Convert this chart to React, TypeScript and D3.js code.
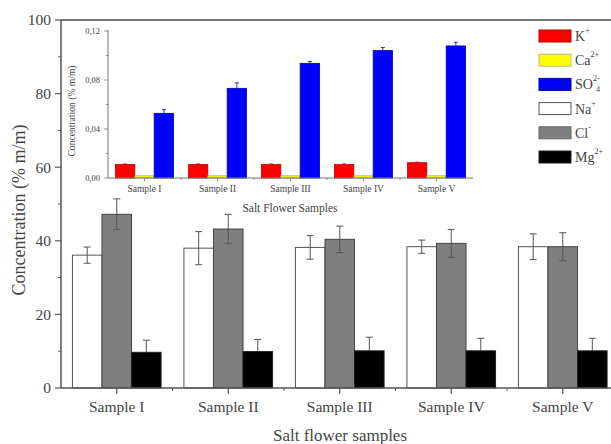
import React from "react";
import * as d3 from "d3";

const samples = ["Sample I", "Sample II", "Sample III", "Sample IV", "Sample V"];
const mainSeries = ["Na", "Cl", "Mg"];
const naValues = [36.1, 38.0, 38.2, 38.4, 38.4];
const naErrors = [2.2, 4.5, 3.2, 1.8, 3.5];
const clValues = [47.2, 43.2, 40.4, 39.3, 38.4];
const clErrors = [4.2, 4.0, 3.6, 3.8, 3.8];
const mgValues = [9.7, 9.9, 10.1, 10.1, 10.1];
const mgErrors = [3.3, 3.3, 3.7, 3.4, 3.4];

const insetSeries = ["K", "Ca", "SO4"];
const kValues = [0.011, 0.011, 0.011, 0.011, 0.0125];
const kErrors = [0.0005, 0.0005, 0.0005, 0.0005, 0.0005];
const caValues = [0.0018, 0.0018, 0.0018, 0.0018, 0.0018];
const caErrors = [0, 0, 0, 0, 0];
const so4Values = [0.0528, 0.0732, 0.0936, 0.104, 0.1078];
const so4Errors = [0.003, 0.0045, 0.0015, 0.0025, 0.003];

const mainTicks = [0, 20, 40, 60, 80, 100];
const mainMinor = [10, 30, 50, 70, 90];
const insetTicks = [0, 0.04, 0.08, 0.12];
const insetMinor = [0.02, 0.06, 0.1];

const FONT = "'Liberation Serif', 'Times New Roman', serif";
const AX = "#555";
const TXT = "#444";

const mainData: Record<string, { v: number[]; e: number[]; fill: string; stroke: string }> = {
  Na: { v: naValues, e: naErrors, fill: "#ffffff", stroke: "#555" },
  Cl: { v: clValues, e: clErrors, fill: "#7f7f7f", stroke: "#444" },
  Mg: { v: mgValues, e: mgErrors, fill: "#000000", stroke: "#222" },
};
const insetData: Record<string, { v: number[]; e: number[]; fill: string; stroke: string }> = {
  K: { v: kValues, e: kErrors, fill: "#ff0000", stroke: "#b00" },
  Ca: { v: caValues, e: caErrors, fill: "#ffff00", stroke: "#aa9" },
  SO4: { v: so4Values, e: so4Errors, fill: "#0000ff", stroke: "#00a" },
};

const legend = [
  { key: "K", base: "K", sup: "+", sub: "", fill: "#ff0000", stroke: "#b00" },
  { key: "Ca", base: "Ca", sup: "2+", sub: "", fill: "#ffff00", stroke: "#bb8" },
  { key: "SO4", base: "SO", sup: "2-", sub: "4", fill: "#0000ff", stroke: "#00a" },
  { key: "Na", base: "Na", sup: "+", sub: "", fill: "#ffffff", stroke: "#555" },
  { key: "Cl", base: "Cl", sup: "-", sub: "", fill: "#7f7f7f", stroke: "#666" },
  { key: "Mg", base: "Mg", sup: "2+", sub: "", fill: "#000000", stroke: "#222" },
];

export default function App() {
  const W = 611, H = 444;
  const x = d3.scaleBand<string>().domain(samples).range([61, 618.5]).padding(0);
  const bw = x.bandwidth();
  const gw = bw * 0.795;
  const xi = d3.scaleBand<string>().domain(mainSeries).range([(bw - gw) / 2, (bw + gw) / 2]).padding(0);
  const y = d3.scaleLinear().domain([0, 100]).range([388, 20]);

  const ix = d3.scaleBand<string>().domain(samples).range([108, 473]).padding(0);
  const ibw = ix.bandwidth();
  const igw = ibw * 0.795;
  const ixi = d3.scaleBand<string>().domain(insetSeries).range([(ibw - igw) / 2, (ibw + igw) / 2]).padding(0);
  const iy = d3.scaleLinear().domain([0, 0.12]).range([178, 31]);

  const legendY = d3.scaleLinear().domain([0, 5]).range([36, 157]);

  return (
    <svg width={W} height={H} style={{ position: "absolute", left: 0, top: 0, background: "#fff" }} fontFamily={FONT}>
      <rect x={0} y={0} width={W} height={H} fill="#fff" />
      {/* main bars */}
      {samples.map((s, i) =>
        mainSeries.map((k) => {
          const d = mainData[k];
          const bx = (x(s) as number) + (xi(k) as number);
          const w = xi.bandwidth();
          const top = y(d.v[i]);
          const cx = bx + w / 2;
          const ec = k === "Mg" ? "#555" : "#555";
          const lowCol = k === "Mg" ? "#000" : ec;
          return (
            <g key={s + k}>
              <rect x={bx} y={top} width={w} height={y(0) - top} fill={d.fill} stroke={d.stroke} strokeWidth={1} />
              <line x1={cx} x2={cx} y1={y(d.v[i] + d.e[i])} y2={top} stroke={ec} strokeWidth={1} />
              <line x1={cx} x2={cx} y1={top} y2={y(d.v[i] - d.e[i])} stroke={lowCol} strokeWidth={1} />
              <line x1={cx - 3.5} x2={cx + 3.5} y1={y(d.v[i] + d.e[i])} y2={y(d.v[i] + d.e[i])} stroke={ec} strokeWidth={1} />
              <line x1={cx - 3.5} x2={cx + 3.5} y1={y(d.v[i] - d.e[i])} y2={y(d.v[i] - d.e[i])} stroke={lowCol} strokeWidth={1} />
            </g>
          );
        })
      )}
      {/* main axes */}
      <line x1={61} x2={W} y1={20} y2={20} stroke="#777" strokeWidth={2} />
      <line x1={61} x2={61} y1={20} y2={388} stroke={AX} strokeWidth={1.5} />
      <line x1={61} x2={W} y1={388} y2={388} stroke={AX} strokeWidth={1.5} />
      {mainTicks.map((t) => (
        <g key={"mt" + t}>
          <line x1={55} x2={61} y1={y(t)} y2={y(t)} stroke={AX} strokeWidth={1.2} />
          <text x={51} y={y(t)} dy="0.35em" textAnchor="end" fontSize={15.5} fill={TXT}>{t}</text>
        </g>
      ))}
      {mainMinor.map((t) => (
        <line key={"mm" + t} x1={58} x2={61} y1={y(t)} y2={y(t)} stroke={AX} strokeWidth={1} />
      ))}
      {samples.map((s, i) => (
        <g key={"xt" + s}>
          <line x1={(x(s) as number) + bw / 2} x2={(x(s) as number) + bw / 2} y1={388} y2={394} stroke={AX} strokeWidth={1.2} />
          {i > 0 && <line x1={x(s) as number} x2={x(s) as number} y1={388} y2={391} stroke={AX} strokeWidth={1} />}
          <text x={(x(s) as number) + bw / 2} y={412} textAnchor="middle" fontSize={15.5} fill={TXT}>{s}</text>
        </g>
      ))}
      <text x={340} y={441} textAnchor="middle" fontSize={17} fill={TXT}>Salt flower samples</text>
      <text transform={`translate(25,210) rotate(-90)`} textAnchor="middle" fontSize={18} fill={TXT}>Concentration (% m/m)</text>

      {/* inset bars */}
      {samples.map((s, i) =>
        insetSeries.map((k) => {
          const d = insetData[k];
          const bx = (ix(s) as number) + (ixi(k) as number);
          const w = ixi.bandwidth();
          const top = iy(d.v[i]);
          const cx = bx + w / 2;
          return (
            <g key={"i" + s + k}>
              <rect x={bx} y={top} width={w} height={iy(0) - top} fill={d.fill} stroke={d.stroke} strokeWidth={0.8} />
              {d.e[i] > 0 && (
                <g stroke={d.stroke} strokeWidth={0.8}>
                  <line x1={cx} x2={cx} y1={iy(d.v[i] + d.e[i])} y2={top} />
                  <line x1={cx - 2} x2={cx + 2} y1={iy(d.v[i] + d.e[i])} y2={iy(d.v[i] + d.e[i])} />
                </g>
              )}
            </g>
          );
        })
      )}
      {/* inset axes */}
      <line x1={108} x2={108} y1={30} y2={178} stroke="#777" strokeWidth={1} />
      <line x1={108} x2={473} y1={178} y2={178} stroke="#777" strokeWidth={1} />
      {insetTicks.map((t) => (
        <g key={"it" + t}>
          <line x1={104} x2={108} y1={iy(t)} y2={iy(t)} stroke="#777" strokeWidth={0.8} />
          <text x={100} y={iy(t)} dy="0.35em" textAnchor="end" fontSize={8.5} fill={TXT}>{t.toFixed(2).replace(".", ",")}</text>
        </g>
      ))}
      {insetMinor.map((t) => (
        <line key={"im" + t} x1={106} x2={108} y1={iy(t)} y2={iy(t)} stroke="#777" strokeWidth={0.8} />
      ))}
      {samples.map((s, i) => (
        <g key={"ixt" + s}>
          <line x1={(ix(s) as number) + ibw / 2} x2={(ix(s) as number) + ibw / 2} y1={178} y2={181} stroke="#777" strokeWidth={0.8} />
          {i > 0 && <line x1={ix(s) as number} x2={ix(s) as number} y1={178} y2={180} stroke="#777" strokeWidth={0.8} />}
          <text x={(ix(s) as number) + ibw / 2} y={192} textAnchor="middle" fontSize={9.5} fill={TXT}>{s}</text>
        </g>
      ))}
      <text x={290} y={212} textAnchor="middle" fontSize={11.5} fill={TXT}>Salt Flower Samples</text>
      <text transform={`translate(75,111) rotate(-90)`} textAnchor="middle" fontSize={9.6} fill={TXT}>Concentration (% m/m)</text>

      {/* legend */}
      {legend.map((l, i) => {
        const cy = legendY(i);
        return (
          <g key={"lg" + l.key}>
            <rect x={539} y={cy - 6} width={32} height={12} fill={l.fill} stroke={l.stroke} strokeWidth={1} />
            <text x={575} y={cy + 5} fontSize={14} fill={TXT}>
              {l.base}
              <tspan fontSize={8} dy={-8}>{l.sup}</tspan>
            </text>
            {l.sub && (
              <text x={575 + 21} y={cy + 8} fontSize={8} fill={TXT}>{l.sub}</text>
            )}
          </g>
        );
      })}
    </svg>
  );
}
